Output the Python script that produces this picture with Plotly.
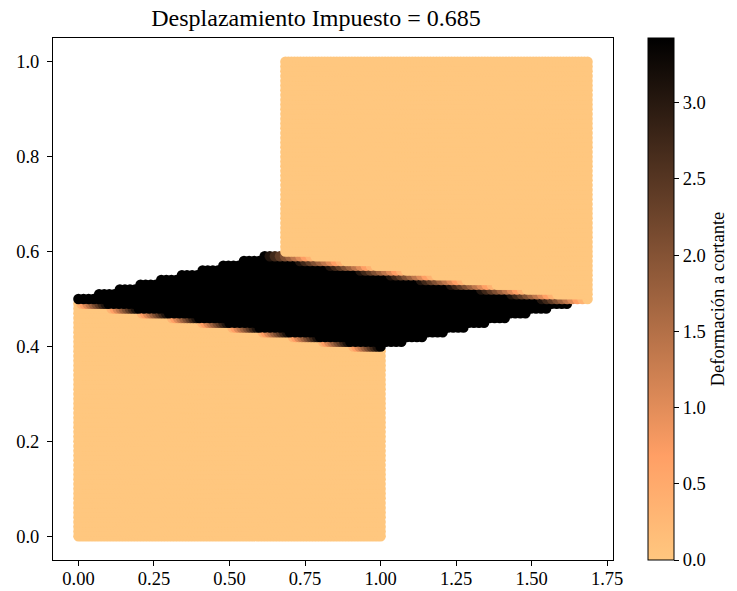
import numpy as np
import plotly.graph_objects as go

# Simulation parameters: unit square mesh with an inclined shear band
IMPOSED_DISP = 0.685      # horizontal displacement of the upper block
N_NODES = 101             # nodes per side of the square mesh
BAND_BASE = 0.5           # band lower edge at x = 0
BAND_SLOPE = -0.1         # inclination of the band edges
BAND_WIDTH = 0.1          # vertical thickness of the band

X_TICKS = [0.0, 0.25, 0.5, 0.75, 1.0, 1.25, 1.5, 1.75]
Y_TICKS = [0.0, 0.2, 0.4, 0.6, 0.8, 1.0]
CB_TICKS = [0.0, 0.5, 1.0, 1.5, 2.0, 2.5, 3.0]

# reference mesh (rows ordered by height)
coords = np.linspace(0.0, 1.0, N_NODES)
X0, Y0 = np.meshgrid(coords, coords)          # Y0 varies along axis 0

# fraction of the way across the band, 0 below it and 1 above it
s = (Y0 - (BAND_BASE + BAND_SLOPE * X0)) / BAND_WIDTH
s = np.clip(np.round(s, 9), 0.0, 1.0)
U = IMPOSED_DISP * s

# shear strain eps_xy = 0.5 du/dy (forward difference along the rows)
dy = coords[1] - coords[0]
dudy = np.zeros_like(U)
dudy[:-1, :] = (U[1:, :] - U[:-1, :]) / dy
strain = 0.5 * dudy

xd = (X0 + U).ravel()
yd = Y0.ravel()
cd = strain.ravel()
cmax = float(cd.max())

# reversed copper colormap
copper_r = [
    [0.0, "rgb(255,199,127)"],
    [0.2, "rgb(255,159,101)"],
    [1.0, "rgb(0,0,0)"],
]

FONT = "Liberation Serif"

fig = go.Figure(
    go.Scatter(
        x=xd,
        y=yd,
        mode="markers",
        marker=dict(
            size=10.5,
            color=cd,
            cmin=0.0,
            cmax=cmax,
            colorscale=copper_r,
            line=dict(width=0),
            colorbar=dict(
                x=(648 - 53) / 560,
                xanchor="left",
                xpad=0,
                y=0.5,
                yanchor="middle",
                ypad=0,
                len=1.0,
                lenmode="fraction",
                thickness=26,
                outlinewidth=1,
                outlinecolor="black",
                tickvals=CB_TICKS,
                ticktext=[f"{v:.1f}" for v in CB_TICKS],
                ticks="outside",
                ticklen=5,
                tickwidth=1,
                tickcolor="black",
                tickfont=dict(family=FONT, size=18.5, color="black"),
                title=dict(
                    text="Deformación a cortante",
                    side="right",
                    font=dict(family=FONT, size=18.5, color="black"),
                ),
            ),
        ),
        showlegend=False,
        hoverinfo="skip",
    )
)

axis_common = dict(
    showgrid=False,
    zeroline=False,
    showline=True,
    linecolor="black",
    linewidth=1,
    mirror=True,
    ticks="outside",
    ticklen=5,
    tickwidth=1,
    tickcolor="black",
    automargin=False,
    tickfont=dict(family=FONT, size=18.5, color="black"),
)

fig.update_xaxes(
    range=[-0.08425, 1.76925],
    tickvals=X_TICKS,
    ticktext=[f"{v:.2f}" for v in X_TICKS],
    ticklabelstandoff=-3,
    **axis_common,
)
fig.update_yaxes(
    range=[-0.05, 1.05],
    tickvals=Y_TICKS,
    ticktext=[f"{v:.1f}" for v in Y_TICKS],
    ticklabelstandoff=4,
    **axis_common,
)

fig.update_layout(
    width=737,
    height=591,
    margin=dict(l=53, r=124, t=38, b=31, autoexpand=False),
    paper_bgcolor="white",
    plot_bgcolor="white",
    title=dict(
        text=f"Desplazamiento Impuesto = {IMPOSED_DISP}",
        x=316 / 737,
        xanchor="center",
        y=1 - 18 / 591,
        yanchor="middle",
        font=dict(family=FONT, size=24, color="black"),
    ),
)

fig.write_html("out.html")
